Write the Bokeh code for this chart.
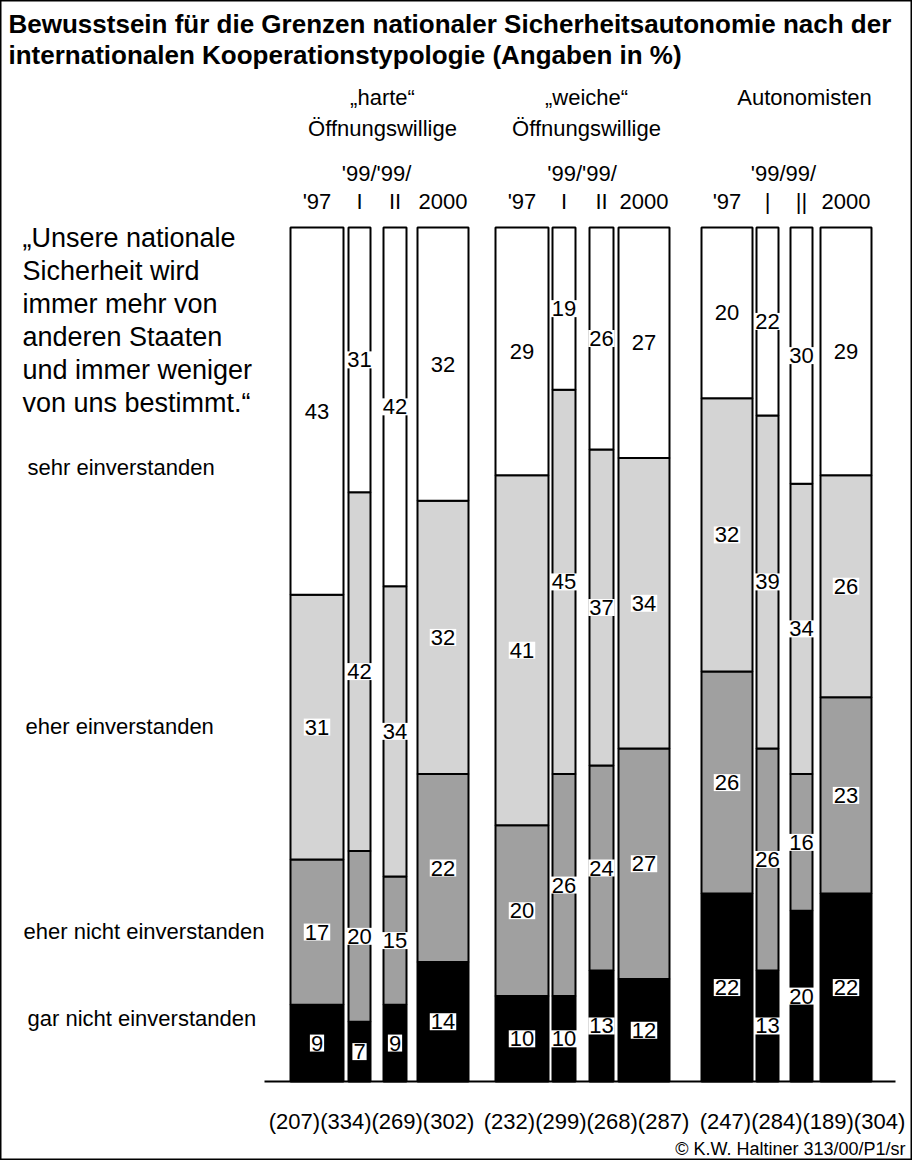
from bokeh.plotting import figure
from bokeh.models import Range1d, Label, ColumnDataSource
from bokeh.embed import file_html
from bokeh.resources import INLINE
from bokeh.core.properties import value

# ---------------- data ----------------
title_lines = ["Bewusstsein für die Grenzen nationaler Sicherheitsautonomie nach der",
               "internationalen Kooperationstypologie (Angaben in %)"]
group_names = [["„harte“", "Öffnungswillige"], ["„weiche“", "Öffnungswillige"], ["Autonomisten"]]
wave_top = ["'99/'99/", "'99/'99/", "'99/99/"]
wave_labels = [["'97", "I", "II", "2000"], ["'97", "I", "II", "2000"], ["'97", "|", "||", "2000"]]
statement = ["„Unsere nationale", "Sicherheit wird", "immer mehr von",
             "anderen  Staaten", "und immer weniger", "von uns bestimmt.“"]
categories = ["sehr einverstanden", "eher einverstanden",
              "eher nicht einverstanden", "gar nicht einverstanden"]
gar_nicht = [9, 7, 9, 14, 10, 10, 13, 12, 22, 13, 20, 22]
eher_nicht = [17, 20, 15, 22, 20, 26, 24, 27, 26, 26, 16, 23]
eher = [31, 42, 34, 32, 41, 45, 37, 34, 32, 39, 34, 26]
sehr = [43, 31, 42, 32, 29, 19, 26, 27, 20, 22, 30, 29]
sample_sizes = [[207, 334, 269, 302], [232, 299, 268, 287], [247, 284, 189, 304]]
copyright_text = "© K.W. Haltiner 313/00/P1/sr"

# ---------------- layout (page pixels) ----------------
W, H, OFF = 912, 1160, 8
BASE_Y = 1089
PX = 8.54
bar_left = [298, 356, 391, 425, 503, 560, 597, 626, 709, 764, 798, 828]
bar_right = [351, 378, 414, 476, 556, 583, 621, 677, 760, 786, 820, 879]
FONT = "Liberation Sans"
fills = ["#000000", "#a0a0a0", "#d4d4d4", "#ffffff"]

p = figure(width=W, height=H, output_backend="svg", toolbar_location=None,
           x_range=Range1d(0, W),
           y_range=Range1d(-(OFF + H - BASE_Y) / PX, (BASE_Y - OFF) / PX),
           x_axis_type=None, y_axis_type=None, min_border=0)
p.grid.visible = False
p.outline_line_color = "black"
p.outline_line_width = 2
p.background_fill_color = "white"
p.border_fill_color = "white"

lefts = [l - OFF for l in bar_left]
rights = [r - OFF for r in bar_right]
centers = [(a + b) / 2 for a, b in zip(lefts, rights)]

layers = [gar_nicht, eher_nicht, eher, sehr]
bottom = [0] * len(gar_nicht)
lab_x, lab_y, lab_t = [], [], []
for vals, col in zip(layers, fills):
    top = [b + v for b, v in zip(bottom, vals)]
    src = ColumnDataSource(dict(left=lefts, right=rights, bottom=bottom, top=top))
    p.quad(left="left", right="right", bottom="bottom", top="top", source=src,
           fill_color=col, line_color="black", line_width=2)
    for c, b, v in zip(centers, bottom, vals):
        lab_x.append(c)
        lab_y.append(b + v / 2)
        lab_t.append(str(v))
    bottom = top

# baseline
p.segment(x0=[min(lefts) - 26], y0=[0], x1=[max(rights) + 24], y1=[0],
          line_color="black", line_width=2)

# value labels
p.text(x=lab_x, y=lab_y, text=lab_t, text_align="center", text_baseline="middle",
       text_font=value(FONT), text_font_size="22px", text_color="black",
       background_fill_color="white", padding=1)


def lab(text, x, y, size="22px", align="left", style="normal"):
    p.add_layout(Label(x=x - OFF, y=H + OFF - y, x_units="screen", y_units="screen",
                       text=text, text_font=FONT, text_font_size=size,
                       text_align=align, text_baseline="alphabetic",
                       text_font_style=style, text_color="black"))


# title
lab(title_lines[0], 16, 31, "26px", style="bold")
lab(title_lines[1], 16, 62, "26px", style="bold")

# group headers
hdr_x = [390, 594, 812]
for g, names in enumerate(group_names):
    for k, t in enumerate(names):
        lab(t, hdr_x[g], 105 + 31 * k, align="center")

# wave labels
for g in range(3):
    i0 = g * 4
    lab(wave_top[g], (bar_left[i0 + 1] + bar_right[i0 + 2]) / 2 - 1, 181, align="center")
    for k in range(4):
        cx = (bar_left[i0 + k] + bar_right[i0 + k]) / 2
        lab(wave_labels[g][k], cx, 209, align="center")

# statement
for k, t in enumerate(statement):
    lab(t, 30, 245 + 33 * k, "27px")

# category labels
cat_x = [35, 33, 31, 35]
cat_y = [475, 734, 939, 1026]
for t, x, y in zip(categories, cat_x, cat_y):
    lab(t, x, y)

# sample sizes
ss_x = [379, 594, 810]
for g in range(3):
    lab("".join(f"({n})" for n in sample_sizes[g]), ss_x[g], 1129, align="center")

lab(copyright_text, 913, 1156, "18px", align="right")

open("out.html", "w").write(file_html(p, INLINE))
